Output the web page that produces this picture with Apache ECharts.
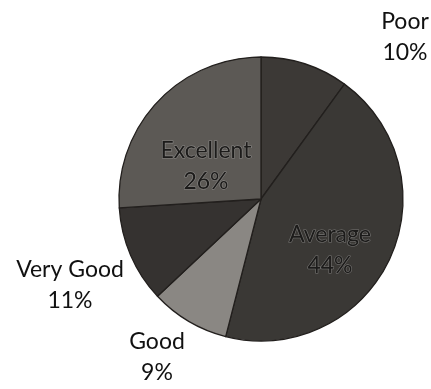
<!DOCTYPE html>
<html>
<head>
<meta charset="utf-8">
<script src="https://cdn.jsdelivr.net/npm/echarts@6/dist/echarts.min.js"></script>
<style>
  html, body { margin: 0; padding: 0; background: #ffffff; }
  #chart { width: 431px; height: 389px; }
</style>
</head>
<body>
<div id="chart"></div>
<script>
// Ratings breakdown, clockwise from 12 o'clock
const categories = ['Poor', 'Average', 'Good', 'Very Good', 'Excellent'];
const shares = [10, 44, 9, 11, 26];
const sliceColors = ['#3c3936', '#3a3835', '#8a8783', '#353230', '#5c5955'];
const insideLabels = ['Average', 'Excellent'];
// label centres for each slice's caption
const labelSpots = {
  'Poor': [405, 37],
  'Average': [330, 250],
  'Good': [157, 357],
  'Very Good': [70, 285],
  'Excellent': [206, 166]
};

const chart = echarts.init(document.getElementById('chart'));

const data = categories.map((name, i) => {
  const inside = insideLabels.includes(name);
  return {
    name,
    value: shares[i],
    itemStyle: { color: sliceColors[i] },
    label: {
      position: inside ? 'inside' : 'outside',
      color: inside ? '#1c1b1a' : '#111111',
      textBorderColor: inside ? 'rgba(190,190,190,0.45)' : 'transparent',
      textBorderWidth: inside ? 1.2 : 0
    },
    labelLine: { show: false }
  };
});

chart.setOption({
  backgroundColor: '#ffffff',
  animation: false,
  series: [{
    type: 'pie',
    center: [261, 199],
    radius: [0, 142],
    startAngle: 90,
    clockwise: true,
    avoidLabelOverlap: false,
    itemStyle: { borderColor: '#221f1d', borderWidth: 1.3 },
    label: {
      show: true,
      formatter: '{b}\n{c}%',
      fontFamily: 'Lato',
      fontSize: 23,
      lineHeight: 31,
      align: 'center',
      verticalAlign: 'middle'
    },
    labelLine: { show: false },
    labelLayout: (p) => {
      const spot = labelSpots[categories[p.dataIndex]];
      return { x: spot[0], y: spot[1], align: 'center', verticalAlign: 'middle' };
    },
    data
  }]
});
</script>
</body>
</html>
